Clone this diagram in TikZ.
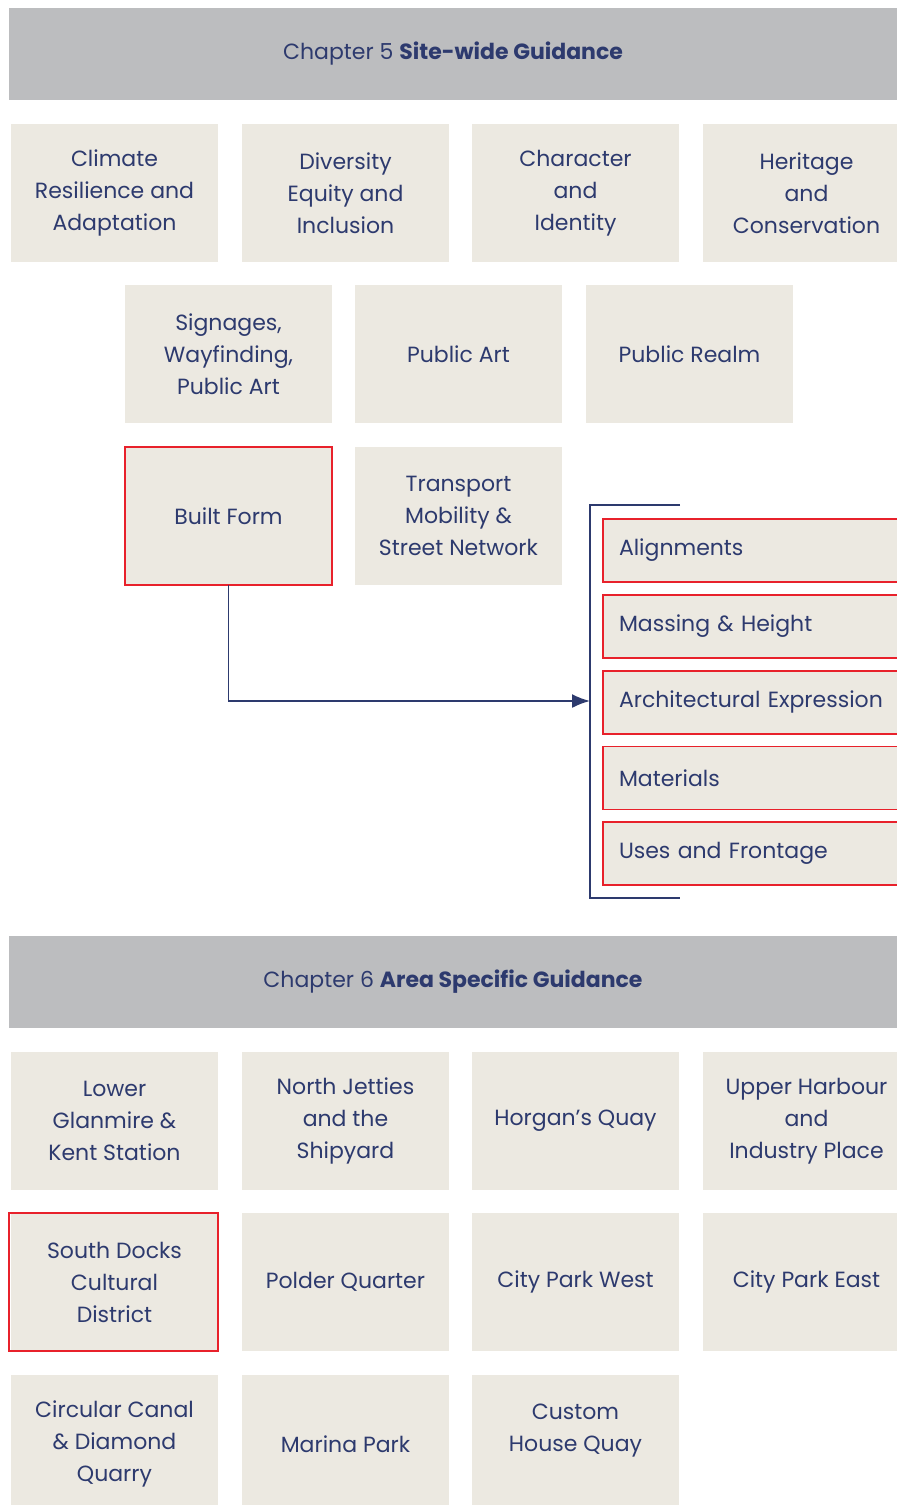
\documentclass[tikz,border=0pt]{standalone}
\usepackage{fontspec}
\setmainfont{Poppins}
\usepackage{tikz}
\usetikzlibrary{arrows.meta, positioning}
\definecolor{hdrgray}{HTML}{BCBDBF}
\definecolor{cardbg}{HTML}{ECE9E1}
\definecolor{navy}{HTML}{2D3A6E}
\definecolor{markred}{HTML}{E8212B}

\begin{document}
\begin{tikzpicture}[x=0.5pt, y=-0.5pt,
  header/.style={fill=hdrgray, minimum width=444pt, minimum height=46pt, outer sep=0pt, anchor=north west, text=navy, font=\fontsize{11}{16}\selectfont},
  card/.style={fill=cardbg, minimum width=103.5pt, minimum height=69pt, inner sep=2pt, outer sep=0pt, align=center, text=navy, font=\fontsize{11}{16}\selectfont},
  redcard/.style={card, draw=markred, line width=0.9pt},
  subcard/.style={fill=cardbg, draw=markred, line width=0.9pt, text width=150pt, inner xsep=8pt, minimum height=31.5pt, outer sep=0pt, align=left, text=navy, font=\fontsize{11}{16}\selectfont},
  bracket/.style={draw=navy, line width=0.9pt},
  arrow/.style={-{Latex[length=9pt, width=7pt]}, draw=navy, line width=0.9pt},
]
\useasboundingbox (0,0) rectangle (897,1505);
\clip (0,0) rectangle (897,1505);

% Chapter 5
\node[header] (ch5) at (9,8) {Chapter 5 \textbf{Site-wide Guidance}};

% Site-wide topics
\node[card, anchor=north west] (climate) at (11,124) {Climate\\Resilience and\\Adaptation};
\node[card, right=12pt of climate] (diversity) {Diversity\\Equity and\\Inclusion};
\node[card, right=11.5pt of diversity] (character) {Character\\and\\Identity};
\node[card, right=12pt of character] (heritage) {Heritage\\and\\Conservation};

\node[card, anchor=north west] (signage) at (125,285) {Signages,\\Wayfinding,\\Public Art};
\node[card, right=11.5pt of signage] (publicart) {Public Art};
\node[card, right=12pt of publicart] (realm) {Public Realm};

\node[redcard, below=12pt of signage] (builtform) {Built Form};
\node[card, below=12pt of publicart] (transport) {Transport\\Mobility \&\\Street Network};

% Built form sub-topics
\node[subcard, anchor=north west] (alignments) at (603,519) {Alignments};
\node[subcard, below=6.4pt of alignments] (massing) {Massing \& Height};
\node[subcard, below=6.4pt of massing] (architecture) {Architectural Expression};
\node[subcard, below=6.4pt of architecture] (materials) {Materials};
\node[subcard, below=6.4pt of materials] (uses) {Uses and Frontage};

% Bracket
\coordinate (brtop) at (680,505);
\coordinate (brbot) at (680,898);
\coordinate (brmid) at (590,701);
\draw[bracket] (brtop) -- (590,505) -- (590,898) -- (brbot);
\draw[arrow] (builtform.south) |- (brmid);

% Chapter 6
\node[header] (ch6) at (9,936) {Chapter 6 \textbf{Area Specific Guidance}};

% Areas
\node[card, anchor=north west] (glanmire) at (11,1052) {Lower\\Glanmire \&\\Kent Station};
\node[card, right=12pt of glanmire] (jetties) {North Jetties\\and the\\Shipyard};
\node[card, right=11.5pt of jetties] (horgan) {Horgan’s Quay};
\node[card, right=12pt of horgan] (harbour) {Upper Harbour\\and\\Industry Place};

\node[card, below=11.5pt of glanmire] (southdocks) {South Docks\\Cultural\\District};
\draw[markred, line width=1.2pt] ([xshift=-1pt]southdocks.north west) rectangle (southdocks.south east);
\node[card, below=11.5pt of jetties] (polder) {Polder Quarter};
\node[card, below=11.5pt of horgan] (parkwest) {City Park West};
\node[card, below=11.5pt of harbour] (parkeast) {City Park East};

\node[card, below=12pt of southdocks] (canal) {Circular Canal\\\& Diamond\\Quarry};
\node[card, below=12pt of polder] (marina) {Marina Park};
\node[card, below=12pt of parkwest] (customhouse) {Custom\\House Quay\\~};
\end{tikzpicture}
\end{document}
